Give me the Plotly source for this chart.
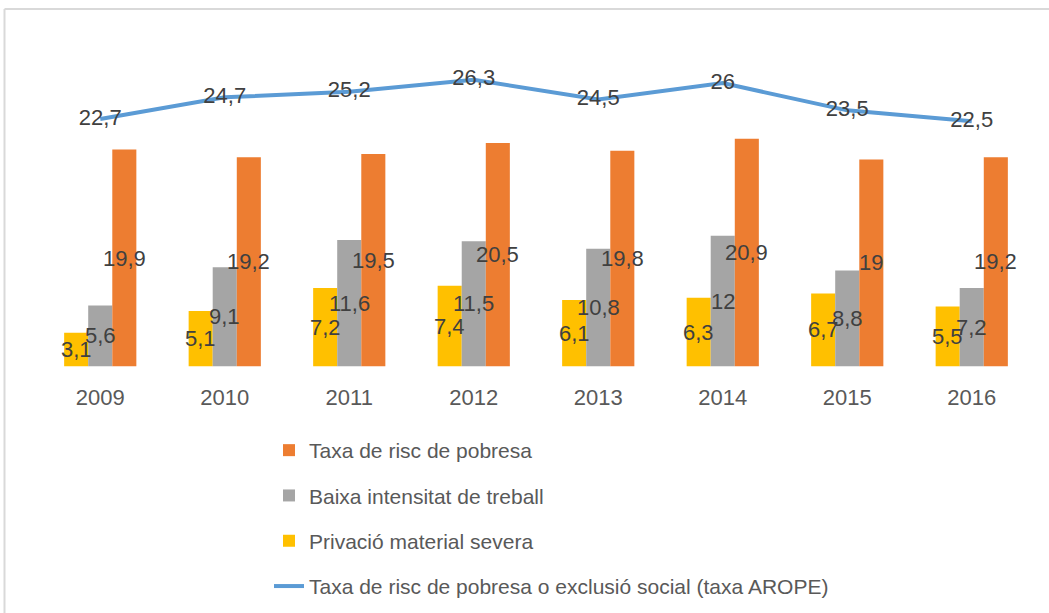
import plotly.graph_objects as go

years = ["2009", "2010", "2011", "2012", "2013", "2014", "2015", "2016"]
privacio = [3.1, 5.1, 7.2, 7.4, 6.1, 6.3, 6.7, 5.5]
baixa = [5.6, 9.1, 11.6, 11.5, 10.8, 12, 8.8, 7.2]
taxa = [19.9, 19.2, 19.5, 20.5, 19.8, 20.9, 19, 19.2]
arope = [22.7, 24.7, 25.2, 26.3, 24.5, 26, 23.5, 22.5]

W, H = 1049, 613
FONT = "Liberation Sans, Arial, sans-serif"
LABEL = "#404040"
X0, X1 = 38, 1034
BARGAP = 0.42


def fmt(v):
    # Catalan decimal comma
    return str(v).replace(".", ",")


fig = go.Figure()

bar_series = [
    ("Privació material severa", privacio, "#FFC000", 3),
    ("Baixa intensitat de treball", baixa, "#A5A5A5", 2),
    ("Taxa de risc de pobresa", taxa, "#ED7D31", 1),
]
for name, vals, color, rank in bar_series:
    fig.add_trace(go.Bar(
        x=years, y=vals, name=name,
        marker=dict(color=color, line=dict(width=0)),
        legendrank=rank, legendgroup=name,
    ))

fig.add_trace(go.Scatter(
    x=years, y=arope, mode="lines+text",
    name="Taxa de risc de pobresa o exclusió social (taxa AROPE)",
    line=dict(color="#5B9BD5", width=4),
    text=[fmt(v) for v in arope], textposition="middle center",
    textfont=dict(family=FONT, size=22, color=LABEL),
    legendrank=4, legendgroup="arope",
))

# bar value labels, centred on each bar and drawn above all bars
# (category index used as x: numeric-looking strings would be read as indices)
bar_w = (X1 - X0) / len(years) * (1 - BARGAP) / len(bar_series)
for k, (name, vals, color, rank) in enumerate(bar_series):
    for i, v in enumerate(vals):
        fig.add_annotation(
            x=i, y=v / 2, text=fmt(v), showarrow=False,
            xshift=(k - 1) * bar_w,
            font=dict(family=FONT, size=22, color=LABEL),
        )

fig.update_layout(
    width=W, height=H,
    margin=dict(l=0, r=0, t=0, b=0),
    paper_bgcolor="white", plot_bgcolor="white",
    barmode="group", bargap=BARGAP, bargroupgap=0,
    font=dict(family=FONT, color="#595959"),
    showlegend=True,
    legend=dict(
        x=269 / W, xanchor="left", y=1 - 430 / H, yanchor="top",
        traceorder="grouped", tracegroupgap=15,
        font=dict(family=FONT, size=21, color="#595959"),
        bgcolor="rgba(0,0,0,0)",
    ),
    shapes=[
        dict(type="line", xref="paper", yref="paper", x0=4.5 / W, x1=1, y0=1 - 9 / H, y1=1 - 9 / H,
             line=dict(color="#D9D9D9", width=2)),
        dict(type="line", xref="paper", yref="paper", x0=4.5 / W, x1=4.5 / W, y0=0, y1=1 - 9 / H,
             line=dict(color="#D9D9D9", width=2)),
    ],
)

fig.update_xaxes(
    type="category", range=[-0.5, len(years) - 0.5],
    domain=[X0 / W, X1 / W], showline=False, showgrid=False, ticks="",
    tickfont=dict(family=FONT, size=22, color="#595959"), ticklabelstandoff=15,
)
fig.update_yaxes(
    domain=[(H - 366.5) / H, (H - 39.5) / H], range=[0, 30],
    showgrid=False, showticklabels=False, zeroline=False, showline=False,
)

fig.write_html("out.html", config={"displayModeBar": False},
               post_script="document.body.style.margin='0px';")
